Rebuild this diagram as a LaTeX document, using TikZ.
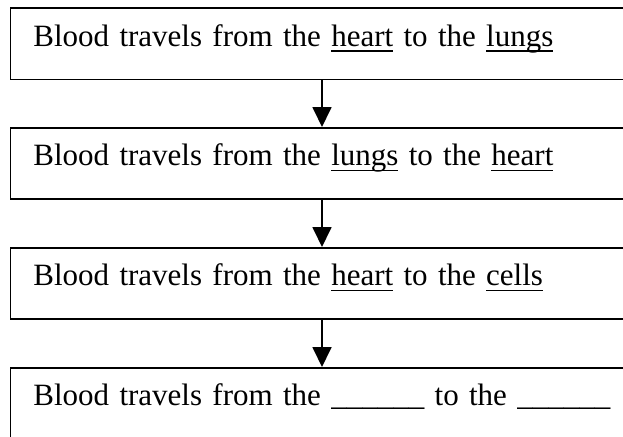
\documentclass[tikz,border=0pt]{standalone}
\usepackage{fontspec}
\setmainfont{Liberation Serif}
\usetikzlibrary{positioning,arrows.meta,calc}
\newcommand{\ulword}[1]{\setbox0\hbox{#1}\rlap{\rule[-0.18em]{\wd0}{0.05em}}\box0\relax}

\begin{document}
\begin{tikzpicture}[x=1pt, y=-1pt, line width=1.8pt,
    every node/.style={font=\fontsize{31}{36}\selectfont},
    routebox/.style={draw, anchor=north west, inner xsep=23pt, inner ysep=0pt,
        text width=640pt, align=left, text height=38pt, text depth=33pt},
    flowarrow/.style={-{Triangle[length=20pt, width=19pt]}}]
  \useasboundingbox (0,0) rectangle (623,436);
  \clip (0,0) rectangle (623,436);
  \coordinate (ax) at (322,0);
  \node[routebox] (route1) at (9.5,7.5) {Blood travels from the \ulword{heart} to the \ulword{lungs}};
  \node[routebox] (route2) at (9.5,127) {Blood travels from the \ulword{lungs} to the \ulword{heart}};
  \node[routebox] (route3) at (9.5,247) {Blood travels from the \ulword{heart} to the \ulword{cells}};
  \node[routebox] (route4) at (9.5,367) {Blood travels from the \_\_\_\_\_\_ to the \_\_\_\_\_\_};
  \draw[flowarrow] (route1.south -| ax) -- (route2.north -| ax);
  \draw[flowarrow] (route2.south -| ax) -- (route3.north -| ax);
  \draw[flowarrow] (route3.south -| ax) -- (route4.north -| ax);
\end{tikzpicture}
\end{document}
